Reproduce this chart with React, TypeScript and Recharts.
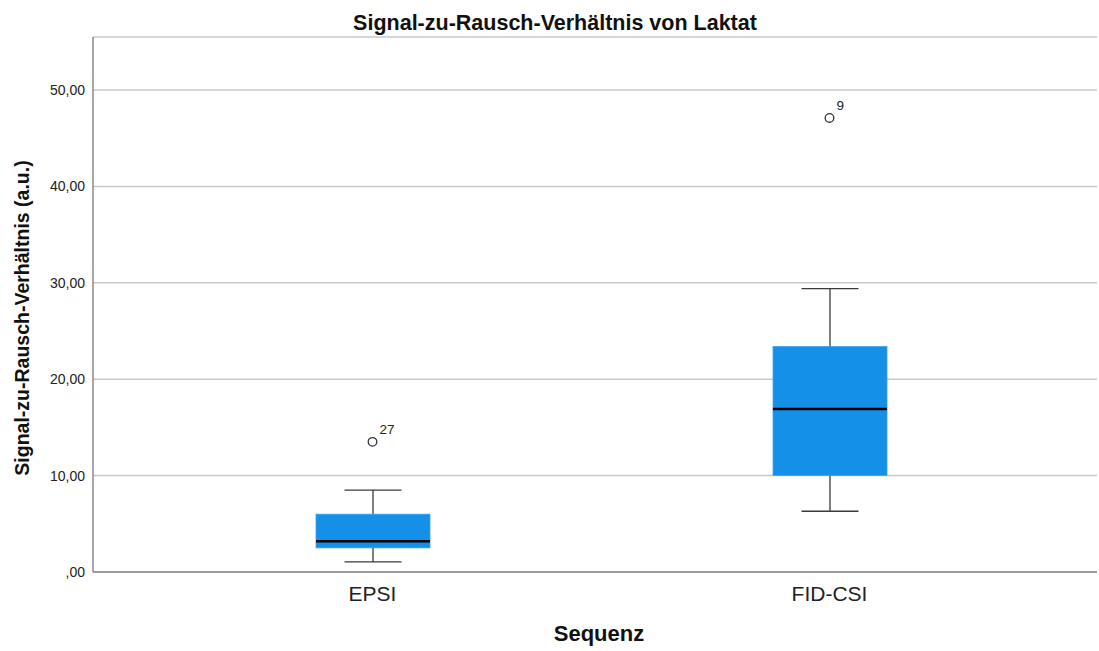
import React from 'react';
import { ComposedChart, Bar, Scatter, XAxis, YAxis, CartesianGrid, LabelList } from 'recharts';

const categories = ['EPSI', 'FID-CSI'];
const whiskerLow = [1.05, 6.3];
const q1 = [2.5, 10.0];
const median = [3.2, 16.9];
const q3 = [6.0, 23.4];
const whiskerHigh = [8.5, 29.4];
const outlierValues = [13.5, 47.1];
const outlierIds = ['27', '9'];
const yTicks = [0, 10, 20, 30, 40, 50];

const data = categories.map((name, i) => ({
  name,
  min: whiskerLow[i],
  q1: q1[i],
  median: median[i],
  q3: q3[i],
  max: whiskerHigh[i],
  outlier: outlierValues[i],
  outlierId: outlierIds[i],
}));

const FONT = '"Liberation Sans", Arial, sans-serif';

const BoxShape = (props: any) => {
  const { x, y, width, height, payload } = props;
  if (payload == null || height == null) return null;
  const { min, max } = payload;
  const bottom = y + height;
  const k = height / (max - min);
  const pix = (v: number) => bottom - (v - min) * k;
  const cx = x + width / 2;
  const capHalf = width / 4;
  const yq1 = pix(payload.q1);
  const yq3 = pix(payload.q3);
  const ym = pix(payload.median);
  return (
    <g>
      <line x1={cx} x2={cx} y1={y} y2={yq3} stroke="#3a3a3a" strokeWidth={1.3} />
      <line x1={cx} x2={cx} y1={yq1} y2={bottom} stroke="#3a3a3a" strokeWidth={1.3} />
      <line x1={cx - capHalf} x2={cx + capHalf} y1={y} y2={y} stroke="#3a3a3a" strokeWidth={1.3} />
      <line x1={cx - capHalf} x2={cx + capHalf} y1={bottom} y2={bottom} stroke="#3a3a3a" strokeWidth={1.3} />
      <rect x={x} y={yq3} width={width} height={yq1 - yq3} fill="#1490E8" stroke="#3fa3ee" strokeWidth={0.8} />
      <line x1={x} x2={x + width} y1={ym} y2={ym} stroke="#000" strokeWidth={2.5} />
    </g>
  );
};

const OutlierShape = (props: any) => {
  const { cx, cy } = props;
  if (cx == null || cy == null) return null;
  return <circle cx={cx} cy={cy} r={4.3} fill="#fff" stroke="#333" strokeWidth={1.3} />;
};

const OutlierLabel = (props: any) => {
  const { x, y, width, height, value } = props;
  const cx = x + (width || 0) / 2;
  const cy = y + (height || 0) / 2;
  return (
    <text x={cx + 7} y={cy - 8} fontSize={13.5} fill="#222" fontFamily={FONT}>
      {value}
    </text>
  );
};

const fmt = (v: number) => (v === 0 ? ',00' : v.toFixed(2).replace('.', ','));

export default function App() {
  return (
    <div style={{ position: 'absolute', left: 0, top: 0, width: 1099, height: 651, background: '#fff', fontFamily: FONT }}>
      <ComposedChart
        width={1099}
        height={651}
        data={data}
        margin={{ top: 37, right: 2, bottom: 49, left: 33 }}
        style={{ position: 'absolute', left: 0, top: 0 }}
      >
        <CartesianGrid vertical={false} stroke="#c8c8c8" strokeWidth={1.5} />
        <XAxis
          dataKey="name"
          height={30}
          padding={{ left: 51, right: 39 }}
          tickLine={false}
          axisLine={{ stroke: '#888', strokeWidth: 1.5 }}
          tick={{ fontSize: 21, fill: '#222', fontFamily: FONT }}
          tickMargin={8}
        />
        <YAxis
          width={60}
          domain={[0, 55.5]}
          ticks={yTicks}
          tickFormatter={fmt}
          tickLine={false}
          axisLine={{ stroke: '#888', strokeWidth: 1.5 }}
          tick={{ fontSize: 14, fill: '#222', fontFamily: FONT }}
          tickMargin={2}
          allowDataOverflow
        />
        <Bar
          dataKey={(d: any) => [d.min, d.max]}
          barSize={114}
          shape={BoxShape}
          isAnimationActive={false}
        />
        <Scatter dataKey="outlier" shape={OutlierShape} isAnimationActive={false}>
          <LabelList dataKey="outlierId" content={OutlierLabel} />
        </Scatter>
      </ComposedChart>
      <svg width={1099} height={651} style={{ position: 'absolute', left: 0, top: 0, pointerEvents: 'none' }}>
        <text x={555} y={30} textAnchor="middle" fontSize={21.5} fontWeight="bold" fill="#111" fontFamily={FONT}>
          Signal-zu-Rausch-Verhältnis von Laktat
        </text>
        <text
          x={0}
          y={0}
          transform="translate(29, 318) rotate(-90)"
          textAnchor="middle"
          fontSize={19.5}
          fontWeight="bold"
          fill="#111"
          fontFamily={FONT}
        >
          Signal-zu-Rausch-Verhältnis (a.u.)
        </text>
        <text x={599} y={641} textAnchor="middle" fontSize={22} fontWeight="bold" fill="#111" fontFamily={FONT}>
          Sequenz
        </text>
      </svg>
    </div>
  );
}
